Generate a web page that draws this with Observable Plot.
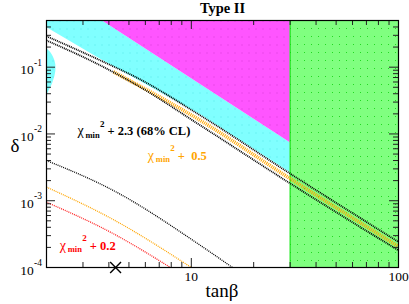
<!DOCTYPE html>
<html><head><meta charset="utf-8">
<script src="https://cdn.jsdelivr.net/npm/d3@7"></script>
<script src="https://cdn.jsdelivr.net/npm/@observablehq/plot@0.6"></script>
<style>body{margin:0;background:#fff;} svg{display:block;} svg text{font-family:"Liberation Serif","DejaVu Serif",serif !important;}</style>
</head><body><div id="chart"></div>
<script>
const xDomain = [2, 100];
const yDomain = [1e-4, 0.5];
const xMinorTicks = [3, 4, 5, 6, 7, 8, 9, 20, 30, 40, 50, 60, 70, 80, 90];
const xMajorTicks = [10, 100];
const xTickLabels = ["10", "100"];
const yMinorTicks = [2e-4, 3e-4, 4e-4, 5e-4, 6e-4, 7e-4, 8e-4, 9e-4,
  2e-3, 3e-3, 4e-3, 5e-3, 6e-3, 7e-3, 8e-3, 9e-3,
  0.02, 0.03, 0.04, 0.05, 0.06, 0.07, 0.08, 0.09, 0.2, 0.3, 0.4];
const yMajorTicks = [1e-4, 1e-3, 1e-2, 1e-1];
const yTickExponents = ["-4", "-3", "-2", "-1"];

const magentaTanB = [3.71, 30, 30];
const magentaDelta = [0.5, 0.00744, 0.5];
const cyanTanB = [2, 3.71, 30, 30, 11.07, 3.645, 2];
const cyanDelta = [0.5, 0.5, 0.00744, 0.00265, 0.0196, 0.1325, 0.397];
const cyanEdgeTanB = [2, 2.091, 2.186, 2.211, 2.186, 2.114, 2.045, 2];
const cyanEdgeDelta = [0.190, 0.166, 0.126, 0.0988, 0.075, 0.055, 0.0447, 0.0376];
const excludedTanB = [30, 100];

const cl68UpperTanB = [2, 3.645, 5.68, 11.07, 29.4, 100];
const cl68UpperDelta = [0.291, 0.126, 0.0653, 0.0189, 0.00265, 0.000241];
const cl68LowerTanB = [2, 3.645, 5.68, 11.07, 29.4, 100];
const cl68LowerDelta = [0.251, 0.106, 0.0501, 0.0134, 0.00189, 0.000180];
const cl68BranchTanB = [2, 4.21, 11.07, 15.8];
const cl68BranchDelta = [0.0040, 0.00142, 0.000214, 0.0001];
const chi05BandTanB = [4.21, 11.07, 29.4, 100];
const chi05BandDelta = [0.085, 0.0159, 0.00223, 0.000206];
const chi05BranchTanB = [2, 4.21, 10];
const chi05BranchDelta = [0.0016, 0.00052, 0.0001];
const chi02BranchTanB = [2, 4.21, 7.93];
const chi02BranchDelta = [0.00095, 0.00032, 0.0001];
const bestFitTanB = [4.31];
const bestFitDelta = [1e-4];

const labelTanB = [2.822, 6.166, 2.318];
const labelDelta = [0.00948, 0.00414, 0.000186];
const labelTail = ["+ 2.3 (68% CL)", "+\u00a0\u00a00.5", "+ 0.2"];

const pts = (xs, ys) => xs.map((x, i) => ({x, y: ys[i]}));
const plotW = 409 - 46 - 11, plotH = 304 - 20 - 37;
const serif = "Liberation Serif";

function chiLabel(i, color) {
  const d = [{x: labelTanB[i], y: labelDelta[i], t: labelTail[i]}];
  const base = {x: "x", y: "y", fill: color, textAnchor: "start", lineAnchor: "bottom", fontFamily: serif};
  return [
    Plot.text(d, {...base, text: () => "χ", fontSize: 14}),
    Plot.text(d, {...base, text: () => "min", dx: 8, dy: 2.5, fontSize: 8.5, fontWeight: "bold"}),
    Plot.text(d, {...base, text: () => "2", dx: 22.5, dy: -8.5, fontSize: 9, fontWeight: "bold"}),
    Plot.text(d, {...base, text: "t", dx: 30, fontSize: 12.5, fontWeight: "bold"})
  ];
}

const contour = (xs, ys, stroke, sw, dash) =>
  Plot.line(pts(xs, ys), {x: "x", y: "y", stroke, strokeWidth: sw, strokeDasharray: dash,
    strokeLinecap: "butt", curve: "monotone-x", clip: true});

const svg = Plot.plot({
  width: 409, height: 304,
  marginTop: 20, marginRight: 11, marginBottom: 37, marginLeft: 46,
  x: {type: "log", domain: xDomain, axis: null},
  y: {type: "log", domain: yDomain, axis: null},
  style: {fontFamily: serif, background: "white", color: "black"},
  marks: [
    Plot.line(pts(cyanTanB, cyanDelta), {x: "x", y: "y", fill: "url(#pc)", stroke: "none"}),
    Plot.line(pts(magentaTanB, magentaDelta), {x: "x", y: "y", fill: "url(#pm)", stroke: "none"}),
    Plot.line(pts(cyanEdgeTanB, cyanEdgeDelta), {x: "x", y: "y", fill: "url(#pc)", stroke: "none", curve: "catmull-rom"}),
    Plot.rect([excludedTanB], {x1: d => d[0], x2: d => d[1], y1: () => yDomain[0], y2: () => yDomain[1], fill: "url(#pg)"}),
    Plot.ruleX([excludedTanB[0]], {stroke: "#10e010", strokeWidth: 1}),
    contour(chi05BandTanB, chi05BandDelta, "#ffa500", 3.6, "1 1"),
    contour(cl68UpperTanB, cl68UpperDelta, "#000", 1.8, "1 0.9"),
    contour(cl68LowerTanB, cl68LowerDelta, "#000", 1.8, "1 0.9"),
    contour(cl68BranchTanB, cl68BranchDelta, "#000", 1.3, "1 1"),
    contour(chi05BranchTanB, chi05BranchDelta, "#ffa500", 1.3, "1 1"),
    contour(chi02BranchTanB, chi02BranchDelta, "#ff2020", 1.3, "1 1"),
    ...chiLabel(0, "black"),
    ...chiLabel(1, "#ffa500"),
    ...chiLabel(2, "#ff0000"),
    Plot.dot(bestFitTanB, {x: d => d, y: (d, i) => bestFitDelta[i], symbol: "times", r: 5, stroke: "black", strokeWidth: 1.4}),
    // ticks (inward, mirrored)
    Plot.ruleX(xMinorTicks, {x: d => d, insetTop: plotH - 5, stroke: "#222"}),
    Plot.ruleX(xMinorTicks, {x: d => d, insetBottom: plotH - 5, stroke: "#222"}),
    Plot.ruleX(xMajorTicks.filter(d => d < xDomain[1]), {x: d => d, insetTop: plotH - 9, stroke: "#222"}),
    Plot.ruleX(xMajorTicks.filter(d => d < xDomain[1]), {x: d => d, insetBottom: plotH - 9, stroke: "#222"}),
    Plot.ruleY(yMinorTicks, {y: d => d, insetRight: plotW - 5, stroke: "#222"}),
    Plot.ruleY(yMinorTicks, {y: d => d, insetLeft: plotW - 5, stroke: "#222"}),
    Plot.ruleY(yMajorTicks.filter(d => d > yDomain[0]), {y: d => d, insetRight: plotW - 9, stroke: "#222"}),
    Plot.ruleY(yMajorTicks.filter(d => d > yDomain[0]), {y: d => d, insetLeft: plotW - 9, stroke: "#222"}),
    Plot.frame({stroke: "black", strokeWidth: 1.2}),
    // tick labels
    Plot.text(xMajorTicks, {x: d => d, text: (d, i) => xTickLabels[i], frameAnchor: "bottom", dy: 13, lineAnchor: "bottom", fontSize: 13.5, fontFamily: serif}),
    Plot.text(yMajorTicks, {y: d => d, text: () => "10", frameAnchor: "left", dx: -12.7, dy: 7, textAnchor: "end", lineAnchor: "bottom", fontSize: 13.5, fontFamily: serif}),
    Plot.text(yMajorTicks, {y: d => d, text: (d, i) => yTickExponents[i], frameAnchor: "left", dx: -12.5, dy: -1.5, textAnchor: "start", lineAnchor: "bottom", fontSize: 9.5, fontFamily: serif}),
    // titles
    Plot.text(["Type II"], {frameAnchor: "top", dy: -8, lineAnchor: "bottom", fontWeight: "bold", fontSize: 14.5, fontFamily: serif}),
    Plot.text(["δ"], {frameAnchor: "left", dx: -36, dy: 1.5, fontSize: 19, fontFamily: serif}),
    Plot.text(["tanβ"], {frameAnchor: "bottom", dx: -0.5, dy: 29, lineAnchor: "bottom", fontSize: 19, fontFamily: serif})
  ]
});

const ns = "http://www.w3.org/2000/svg";
const defs = document.createElementNS(ns, "defs");
defs.innerHTML =
  '<pattern id="pc" width="7" height="8" patternUnits="userSpaceOnUse"><rect width="7" height="8" fill="#80ffff"/><rect x="3" y="4" width="1" height="1" fill="#55e8e8"/></pattern>' +
  '<pattern id="pm" width="7" height="8" patternUnits="userSpaceOnUse"><rect width="7" height="8" fill="#ff55ff"/><rect x="3" y="4" width="1" height="1" fill="#d838d8"/></pattern>' +
  '<pattern id="pg" width="7" height="8" patternUnits="userSpaceOnUse"><rect width="7" height="8" fill="#80ff80"/><rect x="3" y="4" width="1" height="1" fill="#22d822"/></pattern>';
svg.insertBefore(defs, svg.firstChild);
document.getElementById("chart").appendChild(svg);
</script></body></html>
